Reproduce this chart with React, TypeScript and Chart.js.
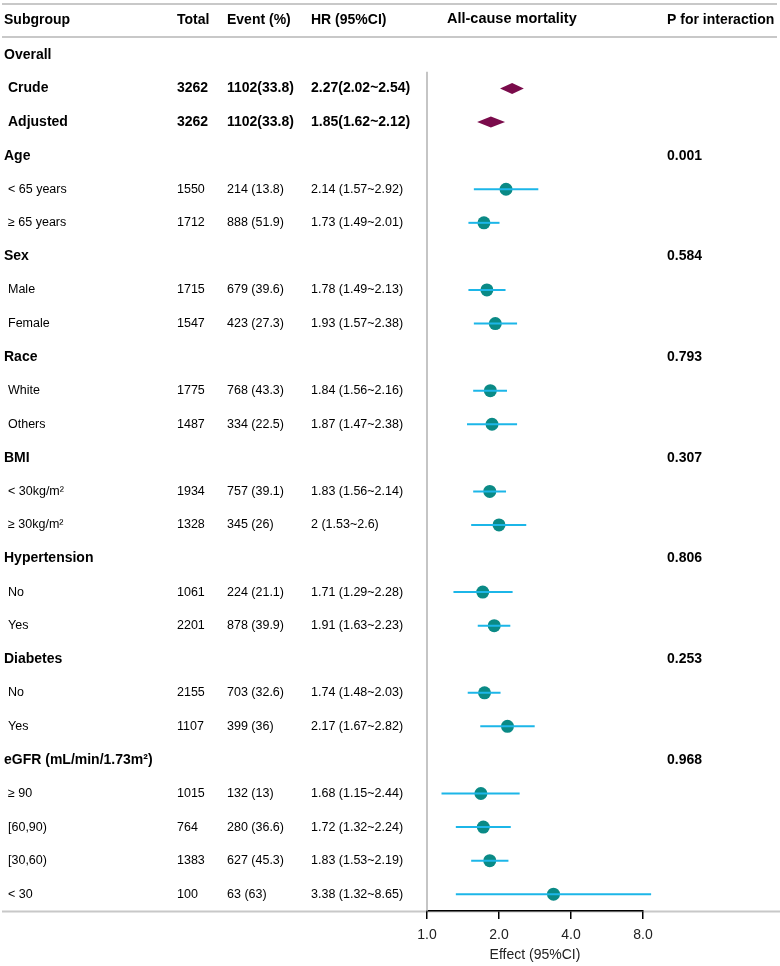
import React, { useEffect, useRef } from "react";
import { Chart, registerables } from "chart.js";

Chart.register(...registerables);

const subgroups = [
  "Overall", "Crude", "Adjusted",
  "Age", "< 65 years", "≥ 65 years",
  "Sex", "Male", "Female",
  "Race", "White", "Others",
  "BMI", "< 30kg/m²", "≥ 30kg/m²",
  "Hypertension", "No", "Yes",
  "Diabetes", "No", "Yes",
  "eGFR (mL/min/1.73m²)", "≥ 90", "[60,90)", "[30,60)", "< 30",
];
const rowTypes = [
  "group", "overall", "overall",
  "group", "item", "item",
  "group", "item", "item",
  "group", "item", "item",
  "group", "item", "item",
  "group", "item", "item",
  "group", "item", "item",
  "group", "item", "item", "item", "item",
];
const totals = [
  "", "3262", "3262",
  "", "1550", "1712",
  "", "1715", "1547",
  "", "1775", "1487",
  "", "1934", "1328",
  "", "1061", "2201",
  "", "2155", "1107",
  "", "1015", "764", "1383", "100",
];
const events = [
  "", "1102(33.8)", "1102(33.8)",
  "", "214 (13.8)", "888 (51.9)",
  "", "679 (39.6)", "423 (27.3)",
  "", "768 (43.3)", "334 (22.5)",
  "", "757 (39.1)", "345 (26)",
  "", "224 (21.1)", "878 (39.9)",
  "", "703 (32.6)", "399 (36)",
  "", "132 (13)", "280 (36.6)", "627 (45.3)", "63 (63)",
];
const hrLabels = [
  "", "2.27(2.02~2.54)", "1.85(1.62~2.12)",
  "", "2.14 (1.57~2.92)", "1.73 (1.49~2.01)",
  "", "1.78 (1.49~2.13)", "1.93 (1.57~2.38)",
  "", "1.84 (1.56~2.16)", "1.87 (1.47~2.38)",
  "", "1.83 (1.56~2.14)", "2 (1.53~2.6)",
  "", "1.71 (1.29~2.28)", "1.91 (1.63~2.23)",
  "", "1.74 (1.48~2.03)", "2.17 (1.67~2.82)",
  "", "1.68 (1.15~2.44)", "1.72 (1.32~2.24)", "1.83 (1.53~2.19)", "3.38 (1.32~8.65)",
];
const hr = [
  null, 2.27, 1.85,
  null, 2.14, 1.73,
  null, 1.78, 1.93,
  null, 1.84, 1.87,
  null, 1.83, 2,
  null, 1.71, 1.91,
  null, 1.74, 2.17,
  null, 1.68, 1.72, 1.83, 3.38,
];
const lower = [
  null, 2.02, 1.62,
  null, 1.57, 1.49,
  null, 1.49, 1.57,
  null, 1.56, 1.47,
  null, 1.56, 1.53,
  null, 1.29, 1.63,
  null, 1.48, 1.67,
  null, 1.15, 1.32, 1.53, 1.32,
];
const upper = [
  null, 2.54, 2.12,
  null, 2.92, 2.01,
  null, 2.13, 2.38,
  null, 2.16, 2.38,
  null, 2.14, 2.6,
  null, 2.28, 2.23,
  null, 2.03, 2.82,
  null, 2.44, 2.24, 2.19, 8.65,
];
const pValues = [
  "", "", "",
  "0.001", "", "",
  "0.584", "", "",
  "0.793", "", "",
  "0.307", "", "",
  "0.806", "", "",
  "0.253", "", "",
  "0.968", "", "", "", "",
];
const headers = ["Subgroup", "Total", "Event (%)", "HR (95%CI)", "All-cause mortality", "P for interaction"];
const xTicks = [1, 2, 4, 8];
const axisTitle = "Effect (95%CI)";

const FONT = "'Liberation Sans', Arial, Helvetica, sans-serif";
const CI_COLOR = "#1cb6e8";
const POINT_COLOR = "#0a8a86";
const DIAMOND_COLOR = "#7a0b4b";

const tablePlugin = {
  id: "tablePlugin",
  beforeDraw(chart: any) {
    const { ctx, chartArea } = chart;
    ctx.save();
    ctx.fillStyle = "#ffffff";
    ctx.fillRect(0, 0, chart.width, chart.height);
    ctx.strokeStyle = "#c8c8c8";
    ctx.lineWidth = 2;
    ctx.beginPath();
    ctx.moveTo(2, 4); ctx.lineTo(777, 4);
    ctx.moveTo(2, 37); ctx.lineTo(777, 37);
    ctx.moveTo(2, chartArea.bottom + 0.5); ctx.lineTo(780, chartArea.bottom + 0.5);
    ctx.stroke();
    ctx.restore();
  },
  afterDatasetsDraw(chart: any) {
    const { ctx, scales } = chart;
    ctx.save();
    ctx.fillStyle = DIAMOND_COLOR;
    rowTypes.forEach((t, i) => {
      if (t !== "overall" || hr[i] == null) return;
      const y = scales.y.getPixelForValue(i);
      const xl = scales.x.getPixelForValue(lower[i]);
      const xc = scales.x.getPixelForValue(hr[i]);
      const xr = scales.x.getPixelForValue(upper[i]);
      ctx.beginPath();
      ctx.moveTo(xl, y);
      ctx.lineTo(xc, y - 5.5);
      ctx.lineTo(xr, y);
      ctx.lineTo(xc, y + 5.5);
      ctx.closePath();
      ctx.fill();
    });
    ctx.restore();
  },
  afterDraw(chart: any) {
    const { ctx, scales } = chart;
    ctx.save();
    ctx.textBaseline = "middle";
    ctx.fillStyle = "#000000";
    const hx = [4, 177, 227, 311, 447, 667];
    const hy = [20, 20, 20, 20, 18.5, 20];
    const hs = [14, 14, 14, 14, 14.5, 14];
    headers.forEach((h, k) => {
      ctx.font = `bold ${hs[k]}px ${FONT}`;
      ctx.fillText(h, hx[k], hy[k]);
    });
    subgroups.forEach((s, i) => {
      const y = scales.y.getPixelForValue(i);
      const t = rowTypes[i];
      if (t === "group") {
        ctx.font = `bold 14px ${FONT}`;
        ctx.fillText(s, 4, y);
        if (pValues[i]) ctx.fillText(pValues[i], 667, y);
      } else {
        ctx.font = t === "overall" ? `bold 14px ${FONT}` : `12.5px ${FONT}`;
        ctx.fillText(s, 8, y);
        ctx.fillText(totals[i], 177, y);
        ctx.fillText(events[i], 227, y);
        ctx.fillText(hrLabels[i], 311, y);
      }
    });
    ctx.restore();
  },
};

export default function App() {
  const ref = useRef<HTMLCanvasElement | null>(null);
  useEffect(() => {
    if (!ref.current) return;
    const datasets: any[] = [];
    datasets.push({
      data: [{ x: 1, y: 0.5 }, { x: 1, y: 25.5 }],
      showLine: true,
      borderColor: "#b3b3b3",
      borderWidth: 1.5,
      pointRadius: 0,
      clip: false,
    });
    rowTypes.forEach((t, i) => {
      if (t !== "item" || hr[i] == null) return;
      datasets.push({
        data: [{ x: lower[i], y: i }, { x: upper[i], y: i }],
        showLine: true,
        borderColor: CI_COLOR,
        borderWidth: 2,
        pointRadius: 0,
        clip: false,
      });
    });
    const pts: any[] = [];
    rowTypes.forEach((t, i) => {
      if (t === "item" && hr[i] != null) pts.push({ x: hr[i], y: i });
    });
    datasets.push({
      data: pts,
      pointRadius: 6.5,
      pointBackgroundColor: POINT_COLOR,
      pointBorderColor: POINT_COLOR,
      pointBorderWidth: 0,
      clip: false,
    });

    const chart = new Chart(ref.current, {
      type: "scatter",
      data: { datasets },
      options: {
        animation: false,
        responsive: false,
        devicePixelRatio: 1,
        events: [],
        layout: { padding: { left: 427, right: 137, top: 38.2, bottom: 0 } },
        plugins: { legend: { display: false }, tooltip: { enabled: false } },
        scales: {
          x: {
            type: "logarithmic",
            min: 1,
            max: 8,
            afterBuildTicks: (scale: any) => {
              scale.ticks = xTicks.map((v) => ({ value: v }));
            },
            afterFit: (scale: any) => {
              scale.height = 55;
            },
            ticks: {
              callback: (v: any) => Number(v).toFixed(1),
              font: { family: FONT, size: 14 },
              color: "#222",
              padding: 8,
              maxRotation: 0,
              autoSkip: false,
            },
            grid: {
              drawOnChartArea: false,
              drawTicks: true,
              tickLength: 8,
              color: "#000",
              lineWidth: 1.5,
            },
            border: { display: true, color: "#000", width: 1.5 },
            title: {
              display: true,
              text: axisTitle,
              font: { family: FONT, size: 14 },
              color: "#222",
              padding: { top: 0, bottom: 2 },
            },
          },
          y: {
            type: "linear",
            reverse: true,
            min: -0.5,
            max: 25.5,
            display: false,
          },
        },
      },
      plugins: [tablePlugin],
    } as any);
    return () => chart.destroy();
  }, []);
  return (
    <div style={{ position: "absolute", left: 0, top: 0, width: 780, height: 966 }}>
      <canvas ref={ref} width={780} height={966} style={{ width: 780, height: 966, display: "block" }} />
    </div>
  );
}
